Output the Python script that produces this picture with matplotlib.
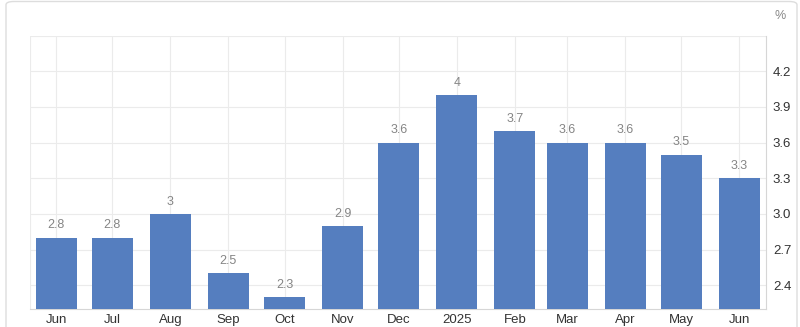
import matplotlib
matplotlib.use("Agg")
import matplotlib.pyplot as plt
import matplotlib.dates as mdates
from matplotlib.patches import FancyBboxPatch
import datetime as dt

plt.rcParams['font.family'] = ['Liberation Sans', 'DejaVu Sans']

months = ["2024-06", "2024-07", "2024-08", "2024-09", "2024-10", "2024-11", "2024-12",
          "2025-01", "2025-02", "2025-03", "2025-04", "2025-05", "2025-06"]
tick_labels = ["Jun", "Jul", "Aug", "Sep", "Oct", "Nov", "Dec",
               "2025", "Feb", "Mar", "Apr", "May", "Jun"]
values = [2.8, 2.8, 3.0, 2.5, 2.3, 2.9, 3.6, 4.0, 3.7, 3.6, 3.6, 3.5, 3.3]
value_labels = ["2.8", "2.8", "3", "2.5", "2.3", "2.9", "3.6", "4", "3.7", "3.6", "3.6", "3.5", "3.3"]
y_ticks = [2.4, 2.7, 3.0, 3.3, 3.6, 3.9, 4.2]

dates = [dt.datetime.strptime(m + "-01", "%Y-%m-%d") for m in months]
x = mdates.date2num(dates)

fig = plt.figure(figsize=(8.0, 3.27), dpi=100)
ax = fig.add_axes([30 / 800, 1 - 309 / 327, (766 - 30) / 800, (309 - 35.7) / 327])

bar_color = "#557ebf"
ax.bar(x, values, width=22, color=bar_color, zorder=3)

for xi, v, lab in zip(x, values, value_labels):
    ax.annotate(lab, (xi, v), xytext=(0, 4.5), textcoords="offset points",
                ha="center", va="bottom", fontsize=9, color="#858585", zorder=4)

ax.set_xlim(x[0] - 14, x[-1] + 14.2)
ax.set_ylim(2.2, 4.5)

ax.set_xticks(x)
ax.set_xticklabels(tick_labels)
ax.set_yticks(y_ticks)
ax.set_yticklabels([f"{t:.1f}" for t in y_ticks])
ax.yaxis.tick_right()
ax.tick_params(axis="x", length=0, pad=3.5, labelsize=9.5, colors="#333333")
ax.tick_params(axis="y", length=0, pad=5, labelsize=9.5, colors="#333333")

ax.grid(True, color="#ebebeb", linewidth=0.8, zorder=0)
ax.axhline(4.5, color="#ebebeb", linewidth=0.8, zorder=0)
ax.axvline(x[0] - 14, color="#ebebeb", linewidth=0.8, zorder=0)

for s in ["top", "left"]:
    ax.spines[s].set_visible(False)
ax.spines["right"].set_color("#d6d6d6")
ax.spines["bottom"].set_color("#d6d6d6")
ax.spines["right"].set_linewidth(0.8)
ax.spines["bottom"].set_linewidth(0.8)

fig.text(780 / 800, 1 - 16 / 327, "%", ha="center", va="center", fontsize=9, color="#888888")

border = FancyBboxPatch((6 / 800, -0.05), (797 - 6) / 800, 1.05 - 1.5 / 327,
                        boxstyle="round,pad=0,rounding_size=0.01",
                        transform=fig.transFigure, fill=False, edgecolor="#dddddd",
                        linewidth=1.0)
fig.patches.append(border)

fig.savefig("out.png", dpi=100)
